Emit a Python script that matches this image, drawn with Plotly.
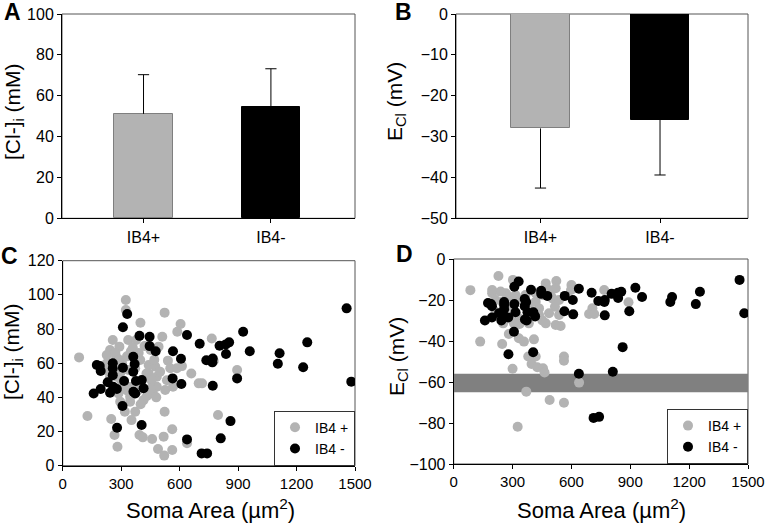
import plotly.graph_objects as go

# panels A/B: group means with SD
groups = ["IB4+", "IB4-"]
cl_mean = [51.1, 54.6]
cl_sd = [19.2, 18.6]
ecl_mean = [-28.0, -25.9]
ecl_sd = [14.6, 13.5]

# panel C: soma area vs [Cl-]i
area_pos_c = [84, 127, 324, 324, 399, 523, 605, 588, 765, 257, 243, 336, 377, 511, 492, 451,
              291, 226, 274, 226, 219, 243, 295, 338, 398, 441, 475, 441, 483, 540, 552, 586,
              612, 483, 526, 566, 463, 432, 346, 346, 295, 319, 353, 372, 249, 266, 281, 394,
              411, 459, 489, 521, 518, 523, 562, 562, 638, 660, 698, 715, 797, 895, 775, 389,
              415, 384, 261, 286, 372, 270, 290, 305, 330, 350, 280, 300, 320, 345, 430, 455,
              470, 500, 535, 240, 360, 390, 420, 330, 400, 450, 480]
cl_pos = [63.4, 29.1, 97, 91.1, 83.7, 89.6, 82.9, 78.4, 74.5, 73.6, 67.7, 73.6, 73.6, 75.5, 69.7, 67.7,
          69.7, 64.8, 63.8, 59.9, 56, 52.1, 54.1, 56, 61.9, 58.9, 58, 54, 52.1, 61.5, 57, 57,
          58.3, 46.2, 44.3, 46.2, 42.3, 40.8, 40.4, 37.5, 37.5, 31.6, 26.7, 31.6, 27.3, 18, 11.1, 18,
          16.6, 15.6, 9.8, 5.9, 17, 31.6, 9.2, 21.3, 13.1, 54, 48.2, 48.2, 29.7, 56, 61.3, 48.2,
          38.4, 43.9, 45.3, 42.3, 57, 66, 62, 60, 64, 67, 52, 50, 47, 46, 54, 50,
          62, 55, 50, 58, 69, 66, 70, 44, 36, 45, 40]

area_neg = [1457, 331, 309, 394, 446, 446, 477, 566, 638, 607, 703, 737, 770, 768, 805, 837,
            854, 838, 926, 960, 1113, 1104, 1234, 1255, 1481, 564, 609, 770, 895, 861, 811, 713,
            741, 638, 405, 279, 307, 159, 195, 175, 190, 195, 231, 243, 257, 257, 257, 259,
            278, 309, 315, 362, 369, 362, 376, 363, 372, 406, 415]
cl_neg = [92.1, 88.8, 81, 76, 75.5, 70, 67, 67, 76.5, 62.6, 71.4, 61.7, 62.8, 60.5, 70.2, 71,
          72.2, 65.4, 78.4, 67, 65.8, 59.7, 57.6, 72.2, 49.2, 51.1, 47.8, 46.8, 51.1, 26.1, 16, 7.2,
          7.2, 15.4, 23.8, 22.2, 34.9, 42.3, 44.9, 58.9, 58.3, 55.4, 48.8, 42.7, 59.9, 57, 53, 46.2,
          44.9, 57.4, 49.6, 63.8, 59.5, 55, 49.6, 43.3, 42.3, 50.1, 45.3]

# panel D: soma area vs E_Cl
area_pos_d = [85, 135, 228, 302, 266, 247, 213, 346, 383, 418, 469, 523, 600, 598, 767, 891,
              707, 690, 716, 516, 486, 537, 520, 545, 452, 383, 336, 307, 252, 281, 332, 358,
              409, 247, 380, 418, 562, 562, 397, 426, 455, 463, 300, 639, 370, 489, 562, 326,
              196, 239, 281, 315, 366, 418, 452, 486, 503, 537, 401, 435, 281, 213, 196, 307,
              332, 435, 469, 494, 520]
ecl_pos = [-15.2, -40.3, -8.3, -10.2, -16.7, -20.8, -20, -20, -23.3, -20.8, -11.9, -10.7, -12.7, -15.1, -15.1, -21.1,
           -24, -26.8, -26.8, -23.3, -26.5, -27.3, -32.2, -32.7, -30, -31.4, -31.7, -31.4, -31.4, -36.6, -38.7, -40.3,
           -39.2, -41.5, -47.6, -47.6, -47.6, -49.6, -51.2, -52.8, -53.3, -55.4, -53.5, -60.3, -64.7, -68.8, -70.1, -81.8,
           -16.7, -15.9, -18.4, -17.6, -17.6, -16.7, -17.6, -15.1, -19.2, -20, -25.7, -24.1, -23.3, -25.7, -15.1, -27.3,
           -28.9, -27.3, -31.4, -17.6, -14.3]
ecl_neg = [-10.2, -11, -13.5, -15, -15.5, -17, -18, -18, -14.5, -20, -16.5, -20.5, -20, -21, -17, -16.5,
           -16, -19, -14, -18.5, -18.5, -21, -22, -16, -26.5, -25.5, -27, -27.5, -25.5, -43, -55, -77.5,
           -77, -56, -45.5, -46.5, -35.5, -30, -28.5, -21.5, -22, -23, -26.5, -30, -21, -22.5, -24.5, -28,
           -28.5, -22, -26, -19.5, -21, -23, -26, -29.5, -30, -26, -28]

ecl_band = [-65, -56]

GRAY = "#b3b3b3"
FONT = "Liberation Sans, Arial"

fig = go.Figure()


def one_sided_error(xa, ya, means, sds, sign):
    # stem from the bar end outwards plus a single cap at the tip
    xs, ys, tips = [], [], []
    for g, m, s in zip(groups, means, sds):
        xs += [g, g, None]
        ys += [m, m + sign * s, None]
        tips.append(m + sign * s)
    fig.add_trace(go.Scatter(x=xs, y=ys, mode="lines", line=dict(color="black", width=1),
                             xaxis=xa, yaxis=ya, showlegend=False, hoverinfo="skip"))
    fig.add_trace(go.Scatter(x=groups, y=tips, mode="markers",
                             marker=dict(symbol="line-ew", size=8, line=dict(color="black", width=1)),
                             xaxis=xa, yaxis=ya, showlegend=False))


fig.add_trace(go.Bar(
    x=groups, y=cl_mean, width=0.456,
    marker=dict(color=[GRAY, "black"], line=dict(color=["#7f7f7f", "black"], width=1)),
    xaxis="x", yaxis="y", showlegend=False))
one_sided_error("x", "y", cl_mean, cl_sd, 1)

fig.add_trace(go.Bar(
    x=groups, y=ecl_mean, width=0.49,
    marker=dict(color=[GRAY, "black"], line=dict(color=["#7f7f7f", "black"], width=1)),
    xaxis="x2", yaxis="y2", showlegend=False))
one_sided_error("x2", "y2", ecl_mean, ecl_sd, -1)

mk = dict(size=10, line=dict(width=0))
fig.add_trace(go.Scatter(x=area_pos_c, y=cl_pos, mode="markers", name="IB4 +",
                         marker=dict(color=GRAY, **mk), xaxis="x3", yaxis="y3", legend="legend"))
fig.add_trace(go.Scatter(x=area_neg, y=cl_neg, mode="markers", name="IB4 -",
                         marker=dict(color="black", **mk), xaxis="x3", yaxis="y3", legend="legend"))
fig.add_trace(go.Scatter(x=area_pos_d, y=ecl_pos, mode="markers", name="IB4 +",
                         marker=dict(color=GRAY, **mk), xaxis="x4", yaxis="y4", legend="legend2"))
fig.add_trace(go.Scatter(x=area_neg, y=ecl_neg, mode="markers", name="IB4 -",
                         marker=dict(color="black", **mk), xaxis="x4", yaxis="y4", legend="legend2"))

W, H = 765, 525


def px_x(p):
    return p / W


def px_y(p):
    return 1 - p / H


def ax(size=16, **kw):
    d = dict(showline=True, linecolor="black", linewidth=1, ticks="outside",
             ticklen=4, tickcolor="black", showgrid=False, zeroline=False, automargin=False,
             ticklabeloverflow="allow",
             tickfont=dict(family=FONT, size=size, color="black"), fixedrange=True)
    d.update(kw)
    return d


fig.update_layout(
    width=W, height=H, margin=dict(l=0, r=0, t=0, b=0, autoexpand=False),
    paper_bgcolor="white", plot_bgcolor="white",
    bargap=0,
    xaxis=ax(domain=[px_x(62), px_x(355)], anchor="y", range=[-0.64, 1.66]),
    yaxis=ax(domain=[px_y(218.3), px_y(14)], anchor="x", range=[0, 100], dtick=20),
    xaxis2=ax(domain=[px_x(456), px_x(748)], anchor="y2", range=[-0.707, 1.736]),
    yaxis2=ax(domain=[px_y(218.3), px_y(14)], anchor="x2", range=[-50, 0], dtick=10),
    xaxis3=ax(15, domain=[px_x(62.7), px_x(355)], anchor="y3", range=[0, 1500], dtick=300),
    yaxis3=ax(domain=[px_y(465.7), px_y(260.7)], anchor="x3", range=[0, 120], dtick=20),
    xaxis4=ax(15, domain=[px_x(453.7), px_x(748)], anchor="y4", range=[0, 1500], dtick=300),
    yaxis4=ax(domain=[px_y(464), px_y(259)], anchor="x4", range=[-100, 0], dtick=20),
    legend=dict(x=px_x(355), y=px_y(465.7), xanchor="right", yanchor="bottom",
                bgcolor="white", bordercolor="#333", borderwidth=1, itemwidth=30,
                font=dict(family=FONT, size=14, color="black"), tracegroupgap=0),
    legend2=dict(x=px_x(748), y=px_y(464), xanchor="right", yanchor="bottom",
                 bgcolor="white", bordercolor="#333", borderwidth=1, itemwidth=30,
                 font=dict(family=FONT, size=14, color="black"), tracegroupgap=0),
)

# plot-area frames (grey top/right edges) and the band in D
for xa, ya in [("x", "y"), ("x2", "y2"), ("x3", "y3"), ("x4", "y4")]:
    fig.add_shape(type="rect", xref=xa + " domain", yref=ya + " domain",
                  x0=0, x1=1, y0=0, y1=1, line=dict(color="#555", width=1), layer="below")
fig.add_shape(type="rect", xref="x4 domain", yref="y4", x0=0, x1=1,
              y0=ecl_band[0], y1=ecl_band[1], fillcolor="#808080", line=dict(width=0), layer="below")

notes = [
    ("A", 12, 12, 0, 23, "bold"),
    ("B", 403, 12, 0, 23, "bold"),
    ("C", 9, 256, 0, 23, "bold"),
    ("D", 404, 254, 0, 23, "bold"),
    ("[Cl-]<sub>i</sub> (mM)", 14, 112, -90, 21, None),
    ("E<sub>Cl</sub> (mV)", 396, 102, -90, 21, None),
    ("[Cl-]<sub>i</sub> (mM)", 13, 352, -90, 21, None),
    ("E<sub>Cl</sub> (mV)", 398, 357, -90, 21, None),
    ("Soma Area (µm<sup>2</sup>)", 210, 509, 0, 22, None),
    ("Soma Area (µm<sup>2</sup>)", 601, 509, 0, 22, None),
]
for text, x, y, ang, size, weight in notes:
    if weight:
        text = "<b>" + text + "</b>"
    fig.add_annotation(text=text, x=px_x(x), y=px_y(y), xref="paper", yref="paper",
                       xanchor="center", yanchor="middle", textangle=ang, showarrow=False,
                       font=dict(family=FONT, size=size, color="black"))

# the page's default body margin would push the fixed-size figure off the window
fig.write_html("out.html", config={"displayModeBar": False},
               post_script="document.body.style.margin = '0px';")
